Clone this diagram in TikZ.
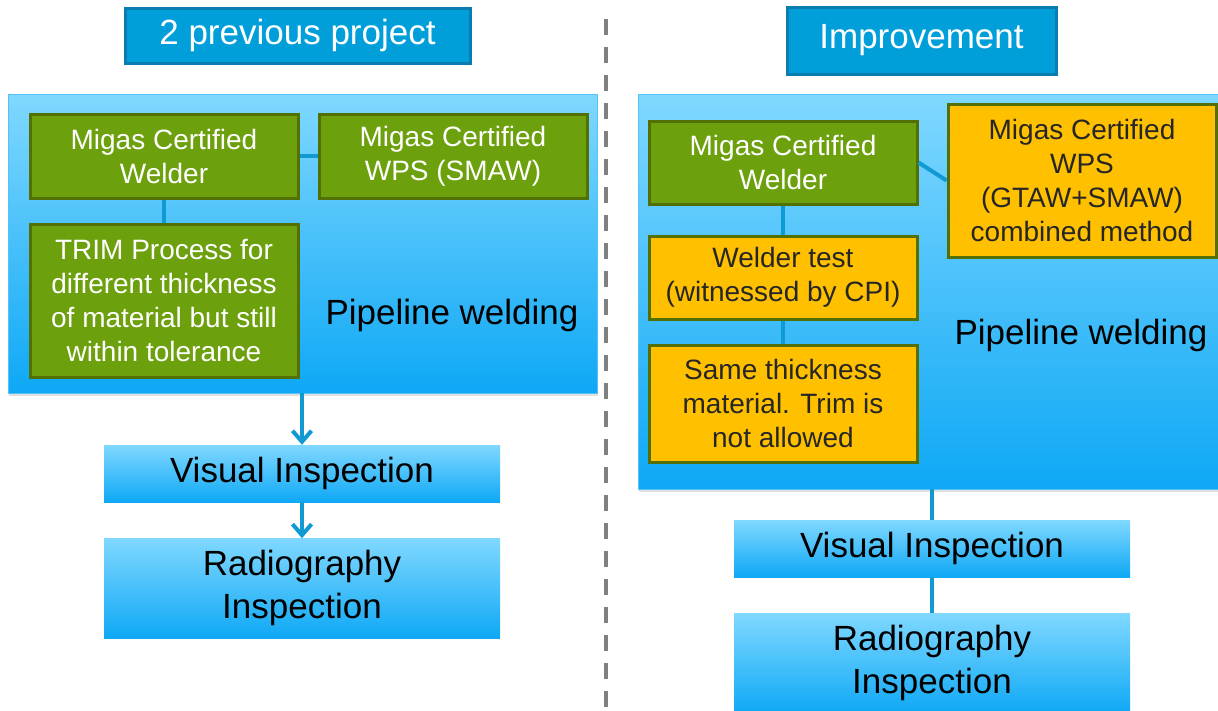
\documentclass[tikz,border=0pt]{standalone}
\usepackage{fontspec}
\setmainfont{Liberation Sans}
\usetikzlibrary{shapes,arrows.meta,positioning,shadows}
\usepackage{xcolor}
\definecolor{titleblue}{RGB}{0,159,218}
\definecolor{titleedge}{RGB}{10,124,174}
\definecolor{skytop}{RGB}{128,216,255}
\definecolor{skybot}{RGB}{14,168,245}
\definecolor{leaf}{RGB}{108,160,12}
\definecolor{leafedge}{RGB}{82,112,4}
\definecolor{amber}{RGB}{255,192,0}
\definecolor{ink}{RGB}{38,38,38}
\definecolor{wire}{RGB}{16,154,212}
\definecolor{divgray}{RGB}{128,128,128}

\begin{document}
\begin{tikzpicture}[
    x=1pt, y=-1pt,
    title/.style={rectangle, draw=titleedge, line width=3pt, fill=titleblue, text=white, inner sep=0pt, font=\fontsize{35}{42}\selectfont},
    group/.style={rectangle, draw=skybot!70!white, line width=0.8pt, top color=skytop, bottom color=skybot, inner sep=0pt,
                  drop shadow={shadow xshift=1pt, shadow yshift=-2.5pt, opacity=0.25}},
    cert/.style={rectangle, draw=leafedge, line width=3pt, fill=leaf, text=white, align=center, inner sep=0pt, minimum width=268pt, font=\fontsize{28}{34}\selectfont},
    extra/.style={cert, fill=amber, text=ink},
    check/.style={rectangle, top color=skytop, bottom color=skybot, inner sep=0pt, align=center, minimum width=396pt, font=\fontsize{35}{43}\selectfont},
    caption/.style={font=\fontsize{35}{42}\selectfont},
    line/.style={draw=wire, line width=4pt},
    arrow/.style={line, -{Straight Barb[length=11pt, width=19pt, line width=4pt]}},
    divider/.style={draw=divgray, line width=4pt, dash pattern=on 16pt off 12pt}
  ]
    \fill[white] (0,0) rectangle (1218,710);
    \useasboundingbox (0,0) rectangle (1218,710);
    \clip (0,0) rectangle (1218,710);

    % left half
    \node [title, minimum width=345pt, minimum height=55pt] (titleL) at (297.5,35.5) {2 previous project};
    \node [group, minimum width=589pt, minimum height=299pt] (pipeL) at (302.5,243.5) {};
    \node [cert, minimum height=84pt] (welderL) at (164,156) {Migas Certified\\Welder};
    \node [cert, minimum height=84pt, right=18pt of welderL] (wpsL) {Migas Certified\\WPS (SMAW)};
    \node [cert, minimum height=153pt, below=23pt of welderL] (trimL) {TRIM Process for\\different thickness\\of material but still\\within tolerance};
    \node [caption] (weldL) at (452,315) {Pipeline welding};
    \node [check, minimum height=57pt] (visualL) at (302,473.5) {Visual Inspection};
    \node [check, minimum height=100pt, below=36pt of visualL] (radioL) {Radiography\\Inspection};

    \path [line] (welderL) -- (wpsL);
    \path [line] (welderL) -- (trimL);
    \path [arrow] (pipeL.south -| visualL) -- (visualL.north);
    \path [arrow] (visualL) -- (radioL);

    % divider
    \coordinate (divtop) at (606,19);
    \coordinate (divbot) at (606,710);
    \path [divider] (divtop) -- (divbot);

    % right half
    \node [title, minimum width=269pt, minimum height=67pt] (titleR) at (921.5,40.5) {Improvement};
    \node [group, minimum width=600pt, minimum height=395pt] (pipeR) at (938,291.5) {};
    \node [cert, minimum height=83pt] (welderR) at (783,162.5) {Migas Certified\\Welder};
    \node [extra, minimum height=153pt] (wpsR) at (1082,180.5) {Migas Certified\\WPS\\(GTAW+SMAW)\\combined method};
    \node [extra, minimum height=83pt, below=29pt of welderR] (testR) {Welder test\\(witnessed by CPI)};
    \node [extra, minimum height=117pt, below=23pt of testR] (sameR) {Same thickness\\material. Trim is\\not allowed};
    \node [caption] (weldR) at (1081,335) {Pipeline welding};
    \node [check, minimum height=57pt] (visualR) at (932,548.5) {Visual Inspection};
    \node [check, minimum height=100pt, below=36pt of visualR] (radioR) {Radiography\\Inspection};

    \path [line] (welderR.east) -- (wpsR.west);
    \path [line] (welderR) -- (testR);
    \path [line] (testR) -- (sameR);
    \path [line] (pipeR.south -| visualR) -- (visualR);
    \path [line] (visualR) -- (radioR);
\end{tikzpicture}
\end{document}
